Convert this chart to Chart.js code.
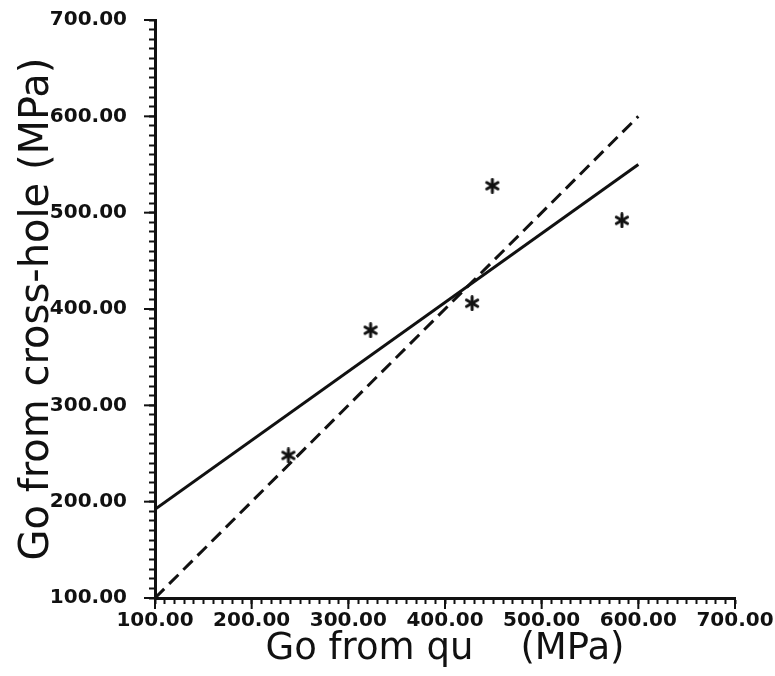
<!DOCTYPE html>
<html lang="en">
<head>
  <meta charset="UTF-8">
  <title>Go from cross-hole vs Go from qu</title>
  <script src="https://cdn.jsdelivr.net/npm/chart.js"></script>
  <style>
    body {
      margin: 0;
      padding: 0;
      background: #fff;
    }

    .chart-box {
      width: 775px;
      height: 676px;
      position: relative;
    }
  </style>
</head>
<body>
  <div class="chart-box">
    <canvas id="goChart"></canvas>
  </div>

  <script>
    // Measured points (MPa)
    const quValues = [238, 323, 428, 449, 583];
    const crossHoleValues = [248, 378, 406, 528, 492];

    const fitX = [100, 600];
    const fitY = [192, 550];
    const equalX = [100, 600];
    const equalY = [100, 600];

    const axisMin = 100;
    const axisMax = 700;
    const minorStep = 10;
    const majorStep = 100;

    const toPoints = (xs, ys) => xs.map((x, i) => ({ x: x, y: ys[i] }));

    const tickFont = { family: 'DejaVu Sans', size: 20, weight: 'bold' };
    const ink = '#111';

    // six-spoke asterisk used as the marker
    function makeAsterisk(size) {
      const c = document.createElement('canvas');
      c.width = size;
      c.height = size;
      const g = c.getContext('2d');
      const r = size / 2 - 1.5;
      g.strokeStyle = ink;
      g.lineWidth = 3;
      g.lineCap = 'round';
      g.translate(size / 2, size / 2);
      for (let k = 0; k < 3; k++) {
        const a = Math.PI / 2 + k * Math.PI / 3;
        g.beginPath();
        g.moveTo(Math.cos(a) * r, Math.sin(a) * r);
        g.lineTo(-Math.cos(a) * r, -Math.sin(a) * r);
        g.stroke();
      }
      return c;
    }

    // longer marks on every major tick
    const majorTicks = {
      id: 'majorTicks',
      afterDraw(chart) {
        const { ctx, scales } = chart;
        ctx.save();
        ctx.strokeStyle = ink;
        ctx.lineWidth = 2;
        for (let v = axisMin; v <= axisMax; v += majorStep) {
          const px = scales.x.getPixelForValue(v);
          ctx.beginPath();
          ctx.moveTo(px, scales.x.top);
          ctx.lineTo(px, scales.x.top + 11);
          ctx.stroke();
          const py = scales.y.getPixelForValue(v);
          ctx.beginPath();
          ctx.moveTo(scales.y.right, py);
          ctx.lineTo(scales.y.right - 11, py);
          ctx.stroke();
        }
        ctx.restore();
      }
    };

    const label = (v) => (v % majorStep === 0 ? v.toFixed(2) : '');

    new Chart(document.getElementById('goChart'), {
      type: 'scatter',
      data: {
        datasets: [
          {
            label: 'data',
            data: toPoints(quValues, crossHoleValues),
            pointStyle: makeAsterisk(16),
            pointRadius: 8
          },
          {
            label: 'fit',
            data: toPoints(fitX, fitY),
            showLine: true,
            pointRadius: 0,
            borderWidth: 3,
            borderColor: ink
          },
          {
            label: '1:1',
            data: toPoints(equalX, equalY),
            showLine: true,
            pointRadius: 0,
            borderWidth: 3,
            borderDash: [13, 7],
            borderColor: ink
          }
        ]
      },
      options: {
        responsive: true,
        maintainAspectRatio: false,
        animation: false,
        layout: { padding: { top: 20, right: 40, left: 0, bottom: 0 } },
        plugins: {
          legend: { display: false },
          tooltip: { enabled: false }
        },
        scales: {
          x: {
            type: 'linear',
            min: axisMin,
            max: axisMax,
            afterFit: (s) => {
              s.height = 78;
              s.paddingLeft = 0;
              s.paddingRight = 0;
            },
            border: { display: true, color: ink, width: 3 },
            grid: {
              drawOnChartArea: false,
              drawTicks: true,
              tickLength: 6,
              tickWidth: 2,
              tickColor: ink
            },
            ticks: {
              stepSize: minorStep,
              autoSkip: false,
              maxRotation: 0,
              padding: 5,
              color: ink,
              font: tickFont,
              callback: label
            },
            title: {
              display: true,
              text: 'Go from qu    (MPa)',
              color: ink,
              font: { family: 'DejaVu Sans', size: 37 },
              padding: { top: 0, bottom: 4 }
            }
          },
          y: {
            type: 'linear',
            min: axisMin,
            max: axisMax,
            afterFit: (s) => {
              s.width = 155;
              s.paddingTop = 0;
              s.paddingBottom = 0;
            },
            border: { display: true, color: ink, width: 3 },
            grid: {
              drawOnChartArea: false,
              drawTicks: true,
              tickLength: 6,
              tickWidth: 2,
              tickColor: ink
            },
            ticks: {
              stepSize: minorStep,
              autoSkip: false,
              padding: 22,
              color: ink,
              font: tickFont,
              callback: label
            },
            title: {
              display: true,
              text: 'Go from cross-hole (MPa)',
              color: ink,
              font: { family: 'DejaVu Sans', size: 40 },
              padding: { top: 14, bottom: 0 }
            }
          }
        }
      },
      plugins: [majorTicks]
    });
  </script>
</body>
</html>
